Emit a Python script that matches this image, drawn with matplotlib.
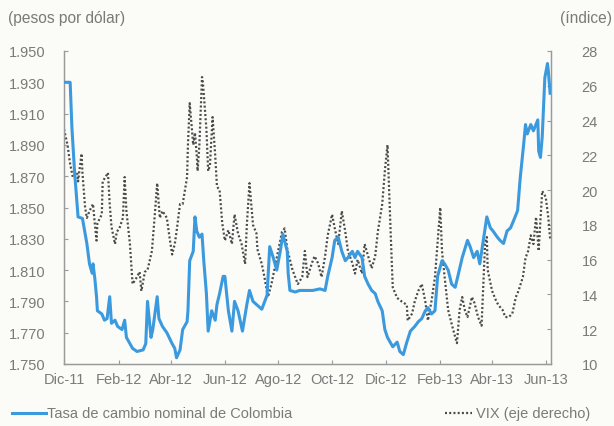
import matplotlib
matplotlib.use("Agg")
import matplotlib.pyplot as plt
import numpy as np
import pandas as pd

# ---------------- data ----------------
cop_dates = ["2011-12-02","2011-12-08","2011-12-10","2011-12-13","2011-12-17","2011-12-22","2011-12-27",
 "2011-12-30","2012-01-02","2012-01-03","2012-01-05","2012-01-07","2012-01-08","2012-01-13","2012-01-16",
 "2012-01-19","2012-01-22","2012-01-24","2012-01-28","2012-01-31","2012-02-05","2012-02-08","2012-02-10",
 "2012-02-14","2012-02-17","2012-02-22","2012-02-29","2012-03-03","2012-03-05","2012-03-09","2012-03-11",
 "2012-03-16","2012-03-18","2012-03-22","2012-03-27","2012-04-02","2012-04-05","2012-04-07","2012-04-11",
 "2012-04-14","2012-04-19","2012-04-20","2012-04-22","2012-04-26","2012-04-28","2012-04-30","2012-05-03",
 "2012-05-06","2012-05-08","2012-05-11","2012-05-13","2012-05-17","2012-05-21","2012-05-23","2012-05-26",
 "2012-05-30","2012-06-01","2012-06-05","2012-06-09","2012-06-12","2012-06-16","2012-06-21","2012-06-26",
 "2012-06-29","2012-07-03","2012-07-07","2012-07-13","2012-07-19","2012-07-22","2012-07-26","2012-07-30",
 "2012-08-03","2012-08-06","2012-08-11","2012-08-12","2012-08-14","2012-08-20","2012-08-25","2012-09-02",
 "2012-09-09","2012-09-17","2012-09-23","2012-09-26","2012-10-01","2012-10-04","2012-10-08","2012-10-12",
 "2012-10-16","2012-10-19","2012-10-24","2012-10-27","2012-10-30","2012-11-04","2012-11-07","2012-11-11",
 "2012-11-15","2012-11-19","2012-11-22","2012-11-27","2012-11-30","2012-12-03","2012-12-09","2012-12-14",
 "2012-12-17","2012-12-21","2012-12-25","2012-12-29","2013-01-03","2013-01-07","2013-01-11","2013-01-15",
 "2013-01-18","2013-01-22","2013-01-26","2013-01-29","2013-02-03","2013-02-06","2013-02-10","2013-02-14",
 "2013-02-18","2013-02-21","2013-02-26","2013-03-04","2013-03-07","2013-03-11","2013-03-15","2013-03-18",
 "2013-03-22","2013-03-26","2013-03-30","2013-04-02","2013-04-07","2013-04-10","2013-04-14","2013-04-18",
 "2013-04-22","2013-04-25","2013-04-30","2013-05-03","2013-05-07","2013-05-09","2013-05-11","2013-05-15",
 "2013-05-18","2013-05-23","2013-05-24","2013-05-26","2013-05-28","2013-05-31","2013-06-03","2013-06-04",
 "2013-06-06"]
cop_values = [1930,1930,1901,1873,1844,1843,1827,
 1814,1808,1814,1805,1793,1784,1782,1778,
 1779,1793,1776,1778,1774,1772,1778,1767,
 1763,1760,1758,1759,1763,1790,1767,1772,
 1793,1779,1774,1770,1763,1760,1754,1759,
 1772,1777,1784,1816,1822,1844,1835,1831,
 1833,1816,1795,1771,1784,1778,1788,1795,
 1806,1806,1784,1771,1790,1784,1771,1788,
 1797,1790,1788,1785,1794,1825,1818,1810,
 1822,1833,1822,1808,1797,1796,1797,1797,
 1797,1798,1797,1806,1818,1829,1831,1822,
 1816,1818,1822,1818,1822,1818,1806,1801,
 1797,1795,1790,1784,1772,1767,1761,1764,
 1758,1756,1764,1771,1774,1777,1779,1784,
 1786,1782,1784,1806,1816,1814,1810,1801,
 1799,1806,1818,1829,1825,1818,1822,1814,
 1829,1844,1837,1835,1831,1829,1827,1835,
 1837,1841,1848,1869,1891,1903,1897,1903,
 1899,1906,1886,1882,1895,1933,1942,1937,
 1923]

vix_dates = ["2011-12-01","2011-12-05","2011-12-08","2011-12-11","2011-12-16","2011-12-17","2011-12-21",
 "2011-12-22","2011-12-25","2011-12-27","2011-12-30","2012-01-03","2012-01-05","2012-01-07","2012-01-08",
 "2012-01-13","2012-01-14","2012-01-19","2012-01-20","2012-01-22","2012-01-24","2012-01-28","2012-01-30",
 "2012-02-02","2012-02-06","2012-02-08","2012-02-10","2012-02-14","2012-02-16","2012-02-17","2012-02-22",
 "2012-02-25","2012-02-27","2012-03-02","2012-03-05","2012-03-10","2012-03-13","2012-03-16","2012-03-19",
 "2012-03-22","2012-03-27","2012-03-30","2012-04-02","2012-04-05","2012-04-07","2012-04-11","2012-04-14",
 "2012-04-19","2012-04-20","2012-04-22","2012-04-26","2012-04-28","2012-04-30","2012-05-01","2012-05-03",
 "2012-05-06","2012-05-07","2012-05-11","2012-05-13","2012-05-15","2012-05-18","2012-05-21","2012-05-23",
 "2012-05-26","2012-05-29","2012-06-01","2012-06-05","2012-06-09","2012-06-12","2012-06-16","2012-06-20",
 "2012-06-24","2012-06-26","2012-06-29","2012-07-03","2012-07-07","2012-07-08","2012-07-13","2012-07-16",
 "2012-07-20","2012-07-24","2012-07-30","2012-08-05","2012-08-08","2012-08-11","2012-08-14","2012-08-17",
 "2012-08-23","2012-08-28","2012-08-31","2012-09-03","2012-09-08","2012-09-11","2012-09-15","2012-09-19",
 "2012-09-23","2012-09-26","2012-10-01","2012-10-04","2012-10-08","2012-10-12","2012-10-16","2012-10-19",
 "2012-10-24","2012-10-27","2012-10-30","2012-11-04","2012-11-07","2012-11-11","2012-11-15","2012-11-19",
 "2012-11-22","2012-11-27","2012-11-30","2012-12-03","2012-12-05","2012-12-07","2012-12-09","2012-12-14",
 "2012-12-19","2012-12-25","2012-12-26","2012-12-31","2013-01-03","2013-01-07","2013-01-11","2013-01-15",
 "2013-01-18","2013-01-22","2013-01-26","2013-01-29","2013-02-01","2013-02-03","2013-02-06","2013-02-10",
 "2013-02-14","2013-02-18","2013-02-20","2013-02-23","2013-02-26","2013-03-01","2013-03-04","2013-03-09",
 "2013-03-12","2013-03-16","2013-03-20","2013-03-24","2013-03-26","2013-03-27","2013-04-01","2013-04-05",
 "2013-04-08","2013-04-13","2013-04-16","2013-04-20","2013-04-24","2013-04-28","2013-05-01","2013-05-06",
 "2013-05-09","2013-05-12","2013-05-15","2013-05-18","2013-05-21","2013-05-24","2013-05-26","2013-05-28",
 "2013-06-01","2013-06-04","2013-06-06"]
vix_values = [23.5,22.6,21.5,20.75,21.0,20.5,22.1,
 21.0,19.0,18.4,18.8,19.2,18.1,17.1,18.1,
 18.6,20.5,20.9,21.0,19.2,17.9,16.9,17.6,
 17.8,18.4,20.75,18.8,16.9,15.3,14.6,15.0,
 15.3,14.2,15.3,15.4,16.5,18.4,20.4,18.4,
 18.8,18.4,17.3,16.3,16.9,17.6,19.2,19.2,
 20.75,22.6,25.0,22.6,23.3,22.0,21.1,22.6,
 26.5,26.2,23.5,21.1,21.4,24.2,22.0,20.2,
 20.0,18.1,17.1,17.7,16.9,18.6,17.5,16.9,
 15.75,18.0,20.4,18.0,17.5,16.6,15.75,15.0,
 13.85,14.6,16.1,17.6,17.8,16.6,16.0,15.4,
 14.6,15.0,16.5,15.0,15.8,16.2,15.8,15.0,
 16.2,17.4,18.6,17.8,16.9,18.8,17.6,16.5,
 15.8,15.2,16.0,15.2,16.9,16.2,15.5,16.2,
 17.6,19.2,21.1,22.6,19.8,17.0,14.4,13.8,
 13.6,13.4,12.5,12.9,13.6,14.2,14.6,13.6,
 12.5,13.6,15.0,17.0,19.0,16.5,15.0,13.1,
 12.3,11.55,11.2,13.1,13.85,13.1,12.7,13.85,
 13.5,12.7,12.2,16.9,17.3,15.4,14.2,13.7,
 13.4,13.1,12.7,12.7,12.9,13.85,14.2,15.0,
 16.1,16.5,17.4,16.9,18.45,16.5,18.3,19.95,
 19.6,18.4,17.2]

tick_dates = ["2011-12-01","2012-02-01","2012-04-01","2012-06-01","2012-08-01","2012-10-01",
              "2012-12-01","2013-02-01","2013-04-01","2013-06-01"]
tick_labels = ["Dic-11","Feb-12","Abr-12","Jun-12","Ago-12","Oct-12","Dic-12","Feb-13","Abr-13","Jun-13"]
left_ticks = [1750,1770,1790,1810,1830,1850,1870,1890,1910,1930,1950]
right_ticks = [10,12,14,16,18,20,22,24,26,28]

# ---------------- style ----------------
TXT = "#7a7a7a"
SP = "#9a9a9a"
BLUE = "#3b9ade"
DOT = "#4a4a4a"
BG = "#fbfbf8"
plt.rcParams['font.family'] = ['Liberation Sans', 'DejaVu Sans']
FS = 10.5
DOTSTYLE = (0, (0.9, 1.0))

fig = plt.figure(figsize=(6.14, 4.27), dpi=100, facecolor=BG)
ax = fig.add_axes([64/614, 1-365/427, (551-64)/614, (365-52)/427])
ax.set_facecolor(BG)
ax2 = ax.twinx()

cd = pd.to_datetime(cop_dates)
vd = pd.to_datetime(vix_dates)
ax2.plot(vd, vix_values, color=DOT, lw=1.6, ls=DOTSTYLE, zorder=2)
ax.plot(cd, cop_values, color=BLUE, lw=2.2, zorder=3)
ax.set_zorder(ax2.get_zorder() + 1)
ax.patch.set_visible(False)
ax2.patch.set_visible(True)
ax2.patch.set_facecolor(BG)

ax.set_xlim(pd.Timestamp("2011-12-01"), pd.Timestamp("2013-06-07"))
ax.set_ylim(1750, 1950)
ax2.set_ylim(10, 28)

ax.set_xticks(pd.to_datetime(tick_dates))
ax.set_xticklabels(tick_labels)
ax.set_yticks(left_ticks)
ax.set_yticklabels([f"{v/1000:.3f}" for v in left_ticks])
ax2.set_yticks(right_ticks)
ax2.set_yticklabels([str(v) for v in right_ticks])

for a in (ax, ax2):
    for s in a.spines.values():
        s.set_color(SP)
        s.set_linewidth(0.9)
    a.spines['top'].set_visible(False)
ax.tick_params(axis='x', direction='in', length=3, color=SP, labelcolor=TXT, labelsize=FS, pad=6)
ax.tick_params(axis='y', direction='in', length=3, color=SP, labelcolor=TXT, labelsize=FS, pad=13)
ax2.tick_params(axis='y', direction='in', length=3, color=SP, labelcolor=TXT, labelsize=FS, pad=22)

fig.text(8/614, 1-18/427, "(pesos por dólar)", color=TXT, fontsize=11.2, ha='left', va='center')
fig.text(612/614, 1-18/427, "(índice)", color=TXT, fontsize=11.2, ha='right', va='center')

# legend
ly = 1-414/427
fig.add_artist(plt.Line2D([12/614, 46/614], [ly, ly], color=BLUE, lw=2.2))
fig.text(47/614, ly, "Tasa de cambio nominal de Colombia", color=TXT, fontsize=FS, ha='left', va='center')
fig.add_artist(plt.Line2D([445/614, 472/614], [ly, ly], color=DOT, lw=1.6, ls=DOTSTYLE))
fig.text(476/614, ly, "VIX (eje derecho)", color=TXT, fontsize=FS, ha='left', va='center')

fig.savefig("out.png", dpi=100, facecolor=BG)
